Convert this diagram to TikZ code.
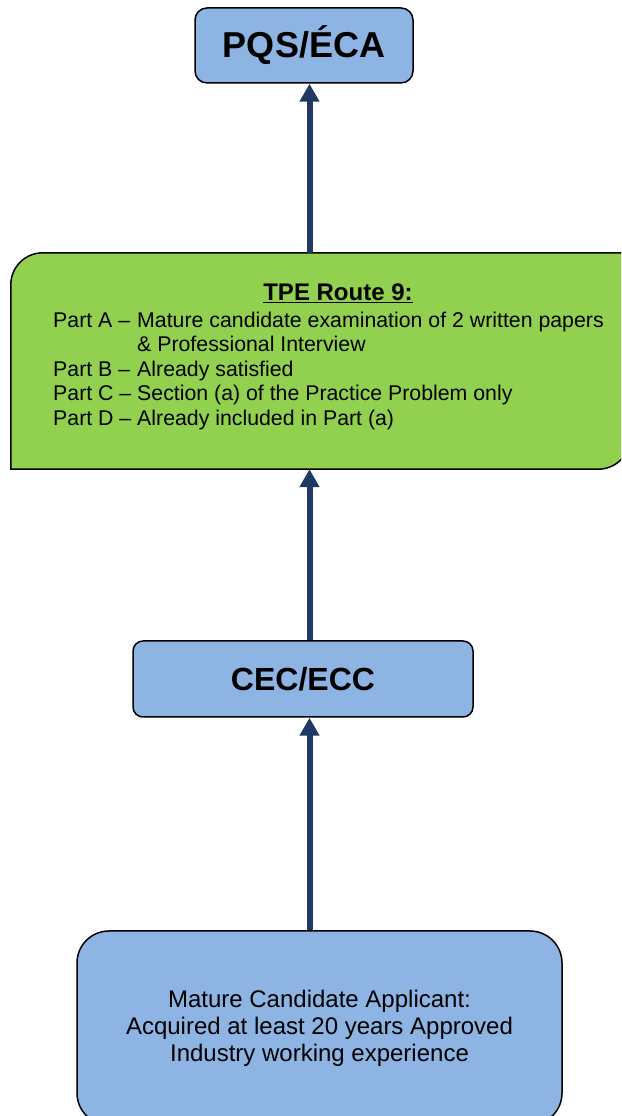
\documentclass[tikz,border=0pt]{standalone}
\usepackage{fontspec}
\setmainfont{Liberation Sans}
\usetikzlibrary{arrows.meta, calc}
\definecolor{boxblue}{RGB}{142, 180, 227}
\definecolor{routegreen}{RGB}{146, 208, 80}
\definecolor{arrownavy}{RGB}{31, 56, 100}

\begin{document}
\begin{tikzpicture}[x=1pt, y=1pt,
    bluebox/.style={draw=black, line width=1.5pt, fill=boxblue, rounded corners=12pt, inner sep=0pt},
    flow/.style={arrownavy, line width=6pt, -{Triangle[length=18pt, width=19pt]}}]
    % Page
    \clip (0, 0) rectangle (621, 1116);

    % Blue boxes
    \node[bluebox, minimum width=218pt, minimum height=75pt, font=\fontsize{36}{40}\selectfont\bfseries] (pqs) at (304, 1070.5) {PQS/ÉCA};
    \node[bluebox, minimum width=340pt, minimum height=76pt, rounded corners=10pt, font=\fontsize{32}{36}\selectfont\bfseries] (cec) at (303, 437) {CEC/ECC};
    \node[bluebox, minimum width=485pt, minimum height=194pt, rounded corners=32pt, align=center, font=\fontsize{24}{27}\selectfont] (applicant) at (319.5, 88) {Mature Candidate Applicant:\\Acquired at least 20 years Approved\\Industry working experience};

    % Route box
    \node[minimum width=619pt, minimum height=216pt, inner sep=0pt] (route) at (320.5, 755) {};
    \draw[fill=routegreen, line width=1.5pt] (route.south west) -- ($(route.north west)+(0,-32)$) arc[start angle=180, end angle=90, radius=32pt] -- (route.north east) -- ($(route.south east)+(0,32)$) arc[start angle=0, end angle=-90, radius=32pt] -- cycle;
    \node[font=\fontsize{24}{28}\selectfont\bfseries] (title) at (338, 823) {\underline{TPE Route 9:}};
    \node[anchor=base west, inner sep=0pt, font=\fontsize{21.3}{24.5}\selectfont] (parts) at (53, 788.5) {\begin{tabular}[t]{@{}l@{\ }l@{}}
        Part A --& Mature candidate examination of 2 written papers\\
                 & \& Professional Interview\\
        Part B --& Already satisfied\\
        Part C --& Section (a) of the Practice Problem only\\
        Part D --& Already included in Part (a)
    \end{tabular}};

    % Arrows
    \coordinate (spine) at (309.5, 0);
    \draw[flow] (applicant.north -| spine) -- (cec.south -| spine);
    \draw[flow] (cec.north -| spine) -- (route.south -| spine);
    \draw[flow] (route.north -| spine) -- (pqs.south -| spine);
\end{tikzpicture}
\end{document}
